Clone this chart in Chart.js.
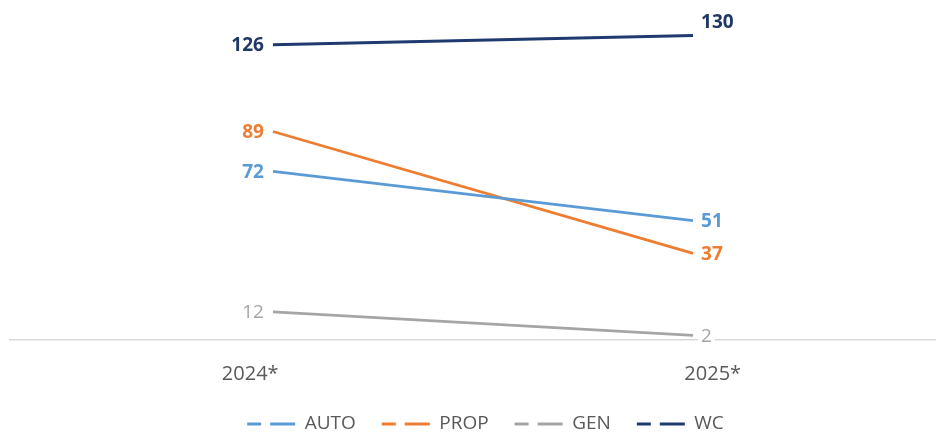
<!DOCTYPE html>
<html>
<head>
<meta charset="utf-8">
<script src="https://cdn.jsdelivr.net/npm/chart.js@4/dist/chart.umd.min.js"></script>
<style>
  html, body { margin: 0; padding: 0; background: #fff; }
  #wrap { width: 940px; height: 433px; }
</style>
</head>
<body>
<div id="wrap"><canvas id="lineChart"></canvas></div>
<script>
// values
const years = ['2024*', '2025*'];
const autoVals = [72, 51];
const propVals = [89, 37];
const genVals = [12, 2];
const wcVals = [126, 130];

const FONT = "'Open Sans', sans-serif";

function toPoints(vals){
    return vals.map((v, i) => ({x: i, y: v}));
}

// draws the value next to every point, like excel data labels
const valueLabels = {
    id: 'valueLabels',
    afterLayout(chart){
        // legend sits a bit right of centre in the original
        chart.legend.left += 13;
        chart.legend.right += 13;
    },
    afterDatasetsDraw(chart){
        const ctx = chart.ctx;
        ctx.save();
        chart.data.datasets.forEach((ds, di) => {
            const meta = chart.getDatasetMeta(di);
            meta.data.forEach((pt, i) => {
                const txt = String(ds.data[i].y);
                const pos = ds.labelPos[i];
                ctx.font = ds.labelWeight + ' 19px ' + FONT;
                const w = ctx.measureText(txt).width;
                let x = pos === 'left' ? pt.x - 9 - w : pt.x + 8;
                let y = pos === 'above' ? pt.y - 13 : pt.y + 1;
                ctx.fillStyle = '#fff';
                ctx.fillRect(x - 3, y - 10, w + 6, 20);
                ctx.fillStyle = ds.labelColor;
                ctx.textBaseline = 'middle';
                ctx.textAlign = 'left';
                ctx.fillText(txt, x, y);
            });
        });
        ctx.restore();
    }
};

function makeSet(label, vals, color, labelColor, weight, pos, width){
    return {
        label: label,
        data: toPoints(vals),
        borderColor: color,
        backgroundColor: color,
        borderWidth: width,
        pointRadius: 0,
        tension: 0,
        labelColor: labelColor,
        labelWeight: weight,
        labelPos: pos
    };
}

new Chart(document.getElementById('lineChart'), {
    type: 'line',
    data: {
        datasets: [
            makeSet('AUTO', autoVals, '#5b9bd5', '#5b9bd5', 'bold', ['left', 'right'], 2.75),
            makeSet('PROP', propVals, '#ed7d31', '#ed7d31', 'bold', ['left', 'right'], 2.75),
            makeSet('GEN', genVals, '#a5a5a5', '#a5a5a5', 'normal', ['left', 'right'], 2.75),
            makeSet('WC', wcVals, '#1f3a6e', '#1f3864', 'bold', ['left', 'above'], 3)
        ]
    },
    options: {
        responsive: true,
        maintainAspectRatio: false,
        animation: false,
        layout: {
            padding: {top: 12, left: 10, right: 5, bottom: -10.5}
        },
        plugins: {
            tooltip: {enabled: false},
            legend: {
                position: 'bottom',
                labels: {
                    color: '#595959',
                    font: {family: FONT, size: 19},
                    boxWidth: 48,
                    boxHeight: 0,
                    padding: 26,
                    generateLabels(chart){
                        return chart.data.datasets.map((ds, i) => ({
                            text: ds.label,
                            fillStyle: 'rgba(0,0,0,0)',
                            strokeStyle: ds.borderColor,
                            lineWidth: 3,
                            lineDash: [14, 9, 25, 48],
                            fontColor: '#595959',
                            hidden: false,
                            datasetIndex: i
                        }));
                    }
                }
            }
        },
        scales: {
            // value axis for the lines, only its baseline is shown
            x: {
                type: 'linear',
                min: -0.626,
                max: 1.576,
                weight: 0,
                grid: {display: false},
                border: {display: true, color: '#d9d9d9', width: 1.5},
                ticks: {display: false},
                afterFit(axis){
                    axis.height = 0;
                }
            },
            // category axis that carries the year labels
            xCat: {
                type: 'category',
                labels: years,
                position: 'bottom',
                offset: true,
                weight: 1,
                grid: {display: false, drawTicks: false},
                border: {display: false},
                afterFit(axis){
                    axis.height = 48.5;
                },
                ticks: {
                    color: '#595959',
                    font: {family: FONT, size: 20},
                    padding: 22,
                    labelOffset: 9,
                    maxRotation: 0
                }
            },
            y: {
                display: false,
                min: 0,
                max: 140
            }
        }
    },
    plugins: [valueLabels]
});
</script>
</body>
</html>
